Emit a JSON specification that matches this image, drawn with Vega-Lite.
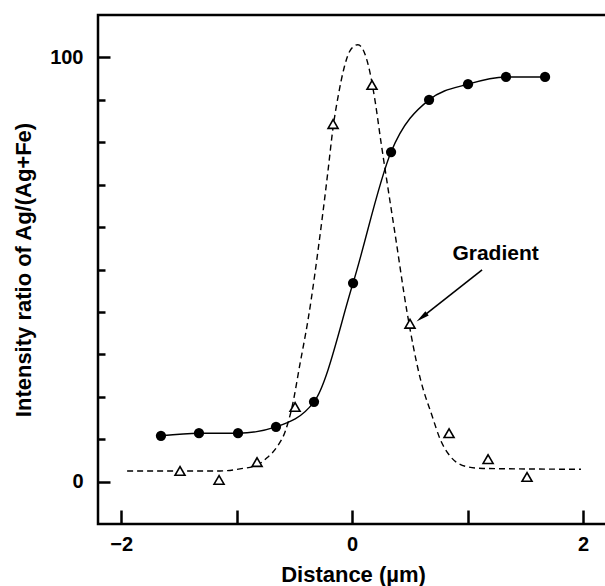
{
  "$schema": "https://vega.github.io/schema/vega-lite/v6.json",
  "width": 510,
  "height": 509,
  "autosize": {"type": "none"},
  "padding": {"left": 98, "top": 15, "right": 0, "bottom": 62},
  "config": {
    "view": {"stroke": "black", "strokeWidth": 2.5},
    "font": "Liberation Sans",
    "axis": {
      "domain": false,
      "grid": false,
      "tickColor": "black",
      "tickWidth": 2.5,
      "labelFont": "Liberation Sans",
      "labelFontSize": 20,
      "labelFontWeight": "bold",
      "labelColor": "black",
      "titleFont": "Liberation Sans",
      "titleFontSize": 22,
      "titleFontWeight": "bold",
      "titleColor": "black"
    }
  },
  "datasets": {
    "circles": [
      {"x": -1.655, "y": 10.8},
      {"x": -1.326, "y": 11.4},
      {"x": -0.988, "y": 11.4},
      {"x": -0.659, "y": 12.9},
      {"x": -0.330, "y": 18.8},
      {"x": 0.008, "y": 46.8},
      {"x": 0.337, "y": 77.7},
      {"x": 0.666, "y": 90.0},
      {"x": 1.003, "y": 93.7},
      {"x": 1.332, "y": 95.4},
      {"x": 1.670, "y": 95.4}
    ],
    "triangles": [
      {"x": -1.490, "y": 2.5},
      {"x": -1.152, "y": 0.4},
      {"x": -0.823, "y": 4.6},
      {"x": -0.494, "y": 17.6},
      {"x": -0.165, "y": 84.3},
      {"x": 0.172, "y": 93.5},
      {"x": 0.501, "y": 37.2},
      {"x": 0.839, "y": 11.4},
      {"x": 1.177, "y": 5.3},
      {"x": 1.514, "y": 1.1}
    ],
    "fit": [
      {"x": -1.948, "y": 2.5},
      {"x": -1.490, "y": 2.5},
      {"x": -1.144, "y": 2.5},
      {"x": -0.971, "y": 3.0},
      {"x": -0.823, "y": 3.9},
      {"x": -0.737, "y": 5.6},
      {"x": -0.650, "y": 8.2},
      {"x": -0.581, "y": 11.7},
      {"x": -0.520, "y": 17.6},
      {"x": -0.451, "y": 27.8},
      {"x": -0.382, "y": 38.1},
      {"x": -0.261, "y": 61.7},
      {"x": -0.210, "y": 73.0},
      {"x": -0.165, "y": 83.5},
      {"x": -0.120, "y": 91.0},
      {"x": -0.070, "y": 97.5},
      {"x": -0.020, "y": 101.5},
      {"x": 0.050, "y": 103.0},
      {"x": 0.100, "y": 101.5},
      {"x": 0.150, "y": 97.0},
      {"x": 0.200, "y": 89.5},
      {"x": 0.250, "y": 80.0},
      {"x": 0.300, "y": 71.0},
      {"x": 0.371, "y": 58.5},
      {"x": 0.475, "y": 40.0},
      {"x": 0.588, "y": 24.5},
      {"x": 0.692, "y": 15.5},
      {"x": 0.762, "y": 10.0},
      {"x": 0.848, "y": 6.0},
      {"x": 0.995, "y": 3.5},
      {"x": 1.133, "y": 3.1},
      {"x": 1.981, "y": 2.9}
    ],
    "arrow": [
      {"x": 1.125, "y": 49.9},
      {"x": 0.603, "y": 38.7}
    ],
    "arrowhead": [
      {"x": 0.603, "y": 38.7}
    ],
    "label": [
      {"x": 1.242, "y": 52.2, "text": "Gradient"}
    ]
  },
  "layer": [
    {
      "data": {"name": "fit"},
      "mark": {"type": "line", "interpolate": "monotone", "color": "black", "strokeWidth": 1.4, "strokeDash": [6, 4]},
      "encoding": {
        "x": {
          "field": "x", "type": "quantitative",
          "scale": {"domain": [-2.2, 2.215], "nice": false, "zero": false},
          "axis": {
            "values": [-2, -1.5, -1, -0.5, 0, 0.5, 1, 1.5, 2],
            "format": "d",
            "labelExpr": "datum.value == 0 || abs(datum.value) == 2 ? datum.label : ''",
            "tickSize": {"condition": {"test": "datum.value % 1 == 0", "value": -14}, "value": -8},
            "labelPadding": 24,
            "title": "Distance (µm)",
            "titlePadding": 10
          }
        },
        "y": {
          "field": "y", "type": "quantitative",
          "scale": {"domain": [-10, 110], "nice": false, "zero": false},
          "axis": {
            "values": [0, 10, 20, 30, 40, 50, 60, 70, 80, 90, 100],
            "labelExpr": "datum.value % 100 == 0 ? datum.label : ''",
            "tickSize": {"condition": {"test": "datum.value % 100 == 0", "value": -12}, "value": -7},
            "labelPadding": 27,
            "title": "Intensity ratio of Ag/(Ag+Fe)",
            "titlePadding": 14
          }
        }
      }
    },
    {
      "data": {"name": "circles"},
      "mark": {"type": "line", "interpolate": "monotone", "color": "black", "strokeWidth": 1.4},
      "encoding": {
        "x": {"field": "x", "type": "quantitative"},
        "y": {"field": "y", "type": "quantitative"}
      }
    },
    {
      "data": {"name": "circles"},
      "mark": {"type": "point", "shape": "circle", "filled": true, "color": "black", "opacity": 1, "size": 105},
      "encoding": {
        "x": {"field": "x", "type": "quantitative"},
        "y": {"field": "y", "type": "quantitative"}
      }
    },
    {
      "data": {"name": "triangles"},
      "mark": {"type": "point", "shape": "triangle-up", "fill": "white", "fillOpacity": 1, "stroke": "black", "strokeWidth": 1.6, "opacity": 1, "size": 100},
      "encoding": {
        "x": {"field": "x", "type": "quantitative"},
        "y": {"field": "y", "type": "quantitative"}
      }
    },
    {
      "data": {"name": "arrow"},
      "mark": {"type": "line", "color": "black", "strokeWidth": 1.6},
      "encoding": {
        "x": {"field": "x", "type": "quantitative"},
        "y": {"field": "y", "type": "quantitative"}
      }
    },
    {
      "data": {"name": "arrowhead"},
      "mark": {"type": "point", "shape": "M0,-1L-0.4,1L0.4,1Z", "filled": true, "color": "black", "opacity": 1, "size": 180, "angle": 232},
      "encoding": {
        "x": {"field": "x", "type": "quantitative"},
        "y": {"field": "y", "type": "quantitative"}
      }
    },
    {
      "data": {"name": "label"},
      "mark": {"type": "text", "font": "Liberation Sans", "fontSize": 21, "fontWeight": "bold", "color": "black", "align": "center", "baseline": "alphabetic"},
      "encoding": {
        "x": {"field": "x", "type": "quantitative"},
        "y": {"field": "y", "type": "quantitative"},
        "text": {"field": "text"}
      }
    }
  ]
}
